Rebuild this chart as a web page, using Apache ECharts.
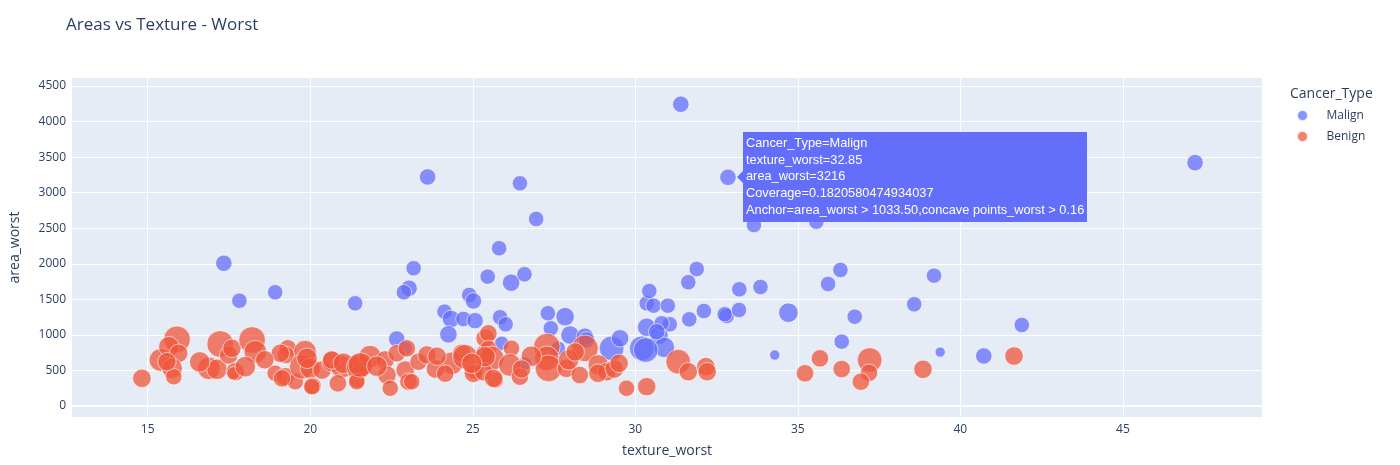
<!DOCTYPE html>
<html>
<head>
<meta charset="utf-8">
<script src="https://cdn.jsdelivr.net/npm/echarts@6/dist/echarts.min.js"></script>
<style>
  html, body { margin: 0; padding: 0; background: #fff; }
  #areas { width: 1400px; height: 465px; }
</style>
</head>
<body>
<div id="areas"></div>
<script>
// [texture_worst, area_worst, Coverage]
var malign = [
    [17.34, 2007, 0.182], [17.82, 1481, 0.16], [18.92, 1599, 0.16], [21.38, 1444, 0.16],
    [22.66, 942, 0.182], [22.92, 811, 0.139], [23.04, 1655, 0.182], [22.88, 1600, 0.16],
    [23.18, 1937, 0.16], [23.61, 3221, 0.182], [24.13, 1327, 0.16], [24.33, 1224, 0.206],
    [24.25, 1008, 0.206], [24.71, 1224, 0.16], [25.07, 1200, 0.182], [24.89, 1561, 0.16],
    [25.02, 1477, 0.182], [25.46, 1819, 0.16], [25.81, 2218, 0.16], [26.18, 1734, 0.206],
    [26.59, 1852, 0.16], [26.45, 3132, 0.16], [26.95, 2630, 0.16], [25.84, 1248, 0.16],
    [26.01, 1149, 0.16], [25.89, 882, 0.139], [26.6, 600, 0.12], [27.31, 1304, 0.16],
    [27.84, 1256, 0.23], [27.4, 1093, 0.16], [27.99, 998, 0.23], [28.45, 975, 0.206],
    [29.27, 811, 0.41], [29.53, 952, 0.206], [30.2, 811, 0.41], [30.35, 1444, 0.16],
    [30.43, 1617, 0.16], [30.35, 1107, 0.23], [30.56, 1411, 0.16], [31.0, 1411, 0.16],
    [31.4, 4243, 0.182], [31.63, 1740, 0.16], [31.89, 1927, 0.16], [32.11, 1336, 0.16],
    [31.66, 1219, 0.16], [30.73, 998, 0.23], [30.89, 825, 0.284], [30.32, 788, 0.41],
    [31.06, 1149, 0.16], [30.81, 1163, 0.16], [32.81, 1266, 0.16], [32.75, 1290, 0.16],
    [33.19, 1350, 0.16], [33.2, 1641, 0.16], [33.85, 1674, 0.16], [32.85, 3216, 0.1820580474934037],
    [33.65, 2546, 0.16], [35.57, 2592, 0.16], [34.71, 1312, 0.257], [34.29, 717, 0.071],
    [36.31, 1913, 0.16], [35.93, 1716, 0.16], [36.75, 1256, 0.16], [36.35, 905, 0.16],
    [38.58, 1430, 0.16], [39.19, 1833, 0.16], [39.38, 759, 0.071], [41.89, 1139, 0.16],
    [40.72, 703, 0.182], [47.22, 3422, 0.182], [28.5, 928, 0.182], [27.63, 811, 0.139],
    [30.66, 1045, 0.182]
];

var benign = [
    [14.82, 389, 0.23], [15.39, 647, 0.344], [15.9, 938, 0.48], [15.65, 834, 0.284],
    [15.95, 741, 0.23], [15.75, 530, 0.284], [15.8, 412, 0.182], [15.59, 623, 0.23],
    [16.88, 530, 0.344], [17.23, 872, 0.48], [17.13, 516, 0.284], [17.49, 717, 0.23],
    [17.59, 811, 0.23], [17.69, 482, 0.23], [17.64, 460, 0.12], [18.21, 928, 0.48],
    [18.31, 764, 0.344], [18.0, 553, 0.284], [18.92, 460, 0.182], [19.23, 412, 0.23],
    [19.31, 811, 0.206], [19.25, 717, 0.206], [19.54, 342, 0.182], [19.84, 764, 0.344],
    [19.74, 553, 0.41], [20.0, 530, 0.284], [20.07, 281, 0.206], [20.36, 506, 0.23],
    [20.67, 623, 0.284], [20.97, 553, 0.344], [20.85, 319, 0.206], [21.44, 530, 0.344],
    [21.44, 366, 0.182], [19.9, 670, 0.284], [19.13, 389, 0.206], [19.08, 741, 0.23],
    [20.05, 272, 0.182], [20.66, 647, 0.23], [21.02, 600, 0.284], [21.49, 553, 0.41],
    [21.43, 342, 0.182], [21.84, 693, 0.344], [22.3, 647, 0.23], [22.36, 436, 0.23],
    [22.46, 249, 0.182], [22.66, 741, 0.206], [22.97, 811, 0.206], [22.92, 506, 0.23],
    [23.02, 342, 0.206], [23.33, 623, 0.206], [23.59, 717, 0.23], [24.35, 600, 0.344],
    [24.66, 741, 0.23], [25.07, 506, 0.23], [25.38, 741, 0.23], [25.38, 952, 0.23],
    [21.54, 577, 0.41], [23.12, 342, 0.182], [24.76, 693, 0.41], [25.02, 460, 0.23],
    [25.48, 1022, 0.206], [25.48, 811, 0.182], [25.58, 670, 0.41], [25.69, 366, 0.182],
    [26.19, 811, 0.182], [26.14, 577, 0.344], [26.45, 412, 0.206], [25.33, 482, 0.23],
    [27.28, 834, 0.48], [27.28, 670, 0.41], [27.33, 530, 0.48], [27.88, 530, 0.23],
    [28.29, 436, 0.206], [28.45, 811, 0.48], [28.86, 577, 0.284], [29.12, 482, 0.23],
    [29.73, 249, 0.182], [30.35, 272, 0.23], [31.32, 623, 0.41], [31.63, 482, 0.23],
    [32.17, 553, 0.23], [32.21, 482, 0.23], [35.22, 460, 0.206], [35.68, 670, 0.206],
    [36.35, 520, 0.206], [37.21, 647, 0.41], [37.19, 468, 0.206], [36.94, 342, 0.206],
    [38.85, 516, 0.23], [41.65, 703, 0.23], [25.38, 693, 0.284], [25.64, 389, 0.23],
    [28.85, 460, 0.23], [29.35, 520, 0.23], [24.97, 600, 0.284], [16.6, 620, 0.284],
    [18.6, 650, 0.23], [22.05, 560, 0.284], [23.85, 520, 0.23], [24.15, 455, 0.206],
    [26.8, 700, 0.284], [27.95, 650, 0.284], [28.15, 760, 0.23], [29.5, 600, 0.23],
    [23.9, 700, 0.23], [26.5, 520, 0.23]
];

var xTicks = [15, 20, 25, 30, 35, 40, 45];
var yTicks = [0, 500, 1000, 1500, 2000, 2500, 3000, 3500, 4000, 4500];

// hovered point in the screenshot
var hoverPoint = [32.85, 3216];
var hoverAnchor = 'area_worst > 1033.50,concave points_worst > 0.16';

var fontFamily = '"Open Sans", verdana, arial, sans-serif';
var textColor = '#2a3f5f';

function bubbleSize(d) {
    // Plotly area sizing: diameter grows with sqrt(Coverage)
    return 38.5 * Math.sqrt(d[2]);
}

var myChart = echarts.init(document.getElementById('areas'), null, { renderer: 'canvas' });

var option = {
    animation: false,
    textStyle: { fontFamily: fontFamily },
    title: [
        {
            text: 'Areas vs Texture - Worst',
            left: 61,
            top: 12,
            textStyle: { fontFamily: fontFamily, fontSize: 17, fontWeight: 'normal', color: textColor }
        },
        {
            text: 'Cancer_Type',
            left: 1285,
            top: 82,
            textStyle: { fontFamily: fontFamily, fontSize: 14, fontWeight: 'normal', color: textColor }
        }
    ],
    legend: {
        orient: 'vertical',
        left: 1291,
        top: 104,
        icon: 'circle',
        itemWidth: 30,
        itemHeight: 11,
        itemGap: 8,
        textStyle: { fontFamily: fontFamily, fontSize: 12, color: textColor, padding: [0, 0, 0, 4] },
        data: ['Malign', 'Benign']
    },
    grid: {
        left: 70,
        right: 138,
        top: 78,
        bottom: 48,
        show: true,
        backgroundColor: '#E5ECF6',
        borderWidth: 0
    },
    tooltip: {
        trigger: 'item',
        triggerOn: 'none',
        alwaysShowContent: true,
        transitionDuration: 0,
        backgroundColor: '#636efa',
        borderColor: '#636efa',
        borderWidth: 0,
        padding: [3, 3, 3, 3],
        extraCssText: 'border-radius:0;box-shadow:none;',
        textStyle: { color: '#fff', fontFamily: 'Arial, sans-serif', fontSize: 12.8 },
        position: function (point, params, dom, rect, size) {
            return [point[0] + 15, point[1] - size.contentSize[1] / 2];
        },
        formatter: function (params) {
            var d = params.data;
            var arrow = '<span style="position:absolute;left:-6px;top:50%;margin-top:-6px;width:0;height:0;' +
                'border-top:6px solid transparent;border-bottom:6px solid transparent;border-right:6px solid #636efa;"></span>';
            return arrow + '<div style="line-height:16.7px;white-space:nowrap;">' +
                'Cancer_Type=' + params.seriesName + '<br/>' +
                'texture_worst=' + d[0] + '<br/>' +
                'area_worst=' + d[1] + '<br/>' +
                'Coverage=' + d[2] + '<br/>' +
                'Anchor=' + hoverAnchor + '</div>';
        }
    },
    xAxis: {
        type: 'value',
        min: 12.67,
        max: 49.28,
        name: 'texture_worst',
        nameLocation: 'middle',
        nameGap: 27,
        nameTextStyle: { fontFamily: fontFamily, fontSize: 14, color: textColor },
        axisLine: { show: false },
        axisTick: { show: false, customValues: xTicks },
        axisLabel: { customValues: xTicks, color: textColor, fontSize: 12, margin: 7 },
        splitLine: { show: true, lineStyle: { color: '#fff', width: 1 } }
    },
    yAxis: {
        type: 'value',
        min: -155,
        max: 4613,
        name: 'area_worst',
        nameLocation: 'middle',
        nameGap: 50,
        nameTextStyle: { fontFamily: fontFamily, fontSize: 14, color: textColor },
        axisLine: { show: false },
        axisTick: { show: false, customValues: yTicks },
        axisLabel: {
            customValues: yTicks,
            color: textColor,
            fontSize: 12,
            margin: 6,
            formatter: function (v) { return String(v); }
        },
        splitLine: { show: true, lineStyle: { color: '#fff', width: 1 } }
    },
    series: [
        {
            name: 'Malign',
            type: 'scatter',
            data: malign,
            symbolSize: bubbleSize,
            itemStyle: { color: '#636efa', opacity: 0.75, borderColor: '#ffffff', borderWidth: 0.8 },
            emphasis: { disabled: true },
            markLine: {
                silent: true,
                symbol: ['none', 'none'],
                label: { show: false },
                lineStyle: { color: '#fff', width: 2, type: 'solid' },
                data: [{ yAxis: 0 }]
            }
        },
        {
            name: 'Benign',
            type: 'scatter',
            data: benign,
            symbolSize: bubbleSize,
            itemStyle: { color: '#EF553B', opacity: 0.75, borderColor: '#ffffff', borderWidth: 0.8 },
            emphasis: { disabled: true }
        }
    ]
};

myChart.setOption(option);

// show the hover label that is visible in the original
var hoverIndex = malign.findIndex(function (p) {
    return p[0] === hoverPoint[0] && p[1] === hoverPoint[1];
});
myChart.dispatchAction({
    type: 'showTip',
    seriesIndex: 0,
    dataIndex: hoverIndex
});
</script>
</body>
</html>
